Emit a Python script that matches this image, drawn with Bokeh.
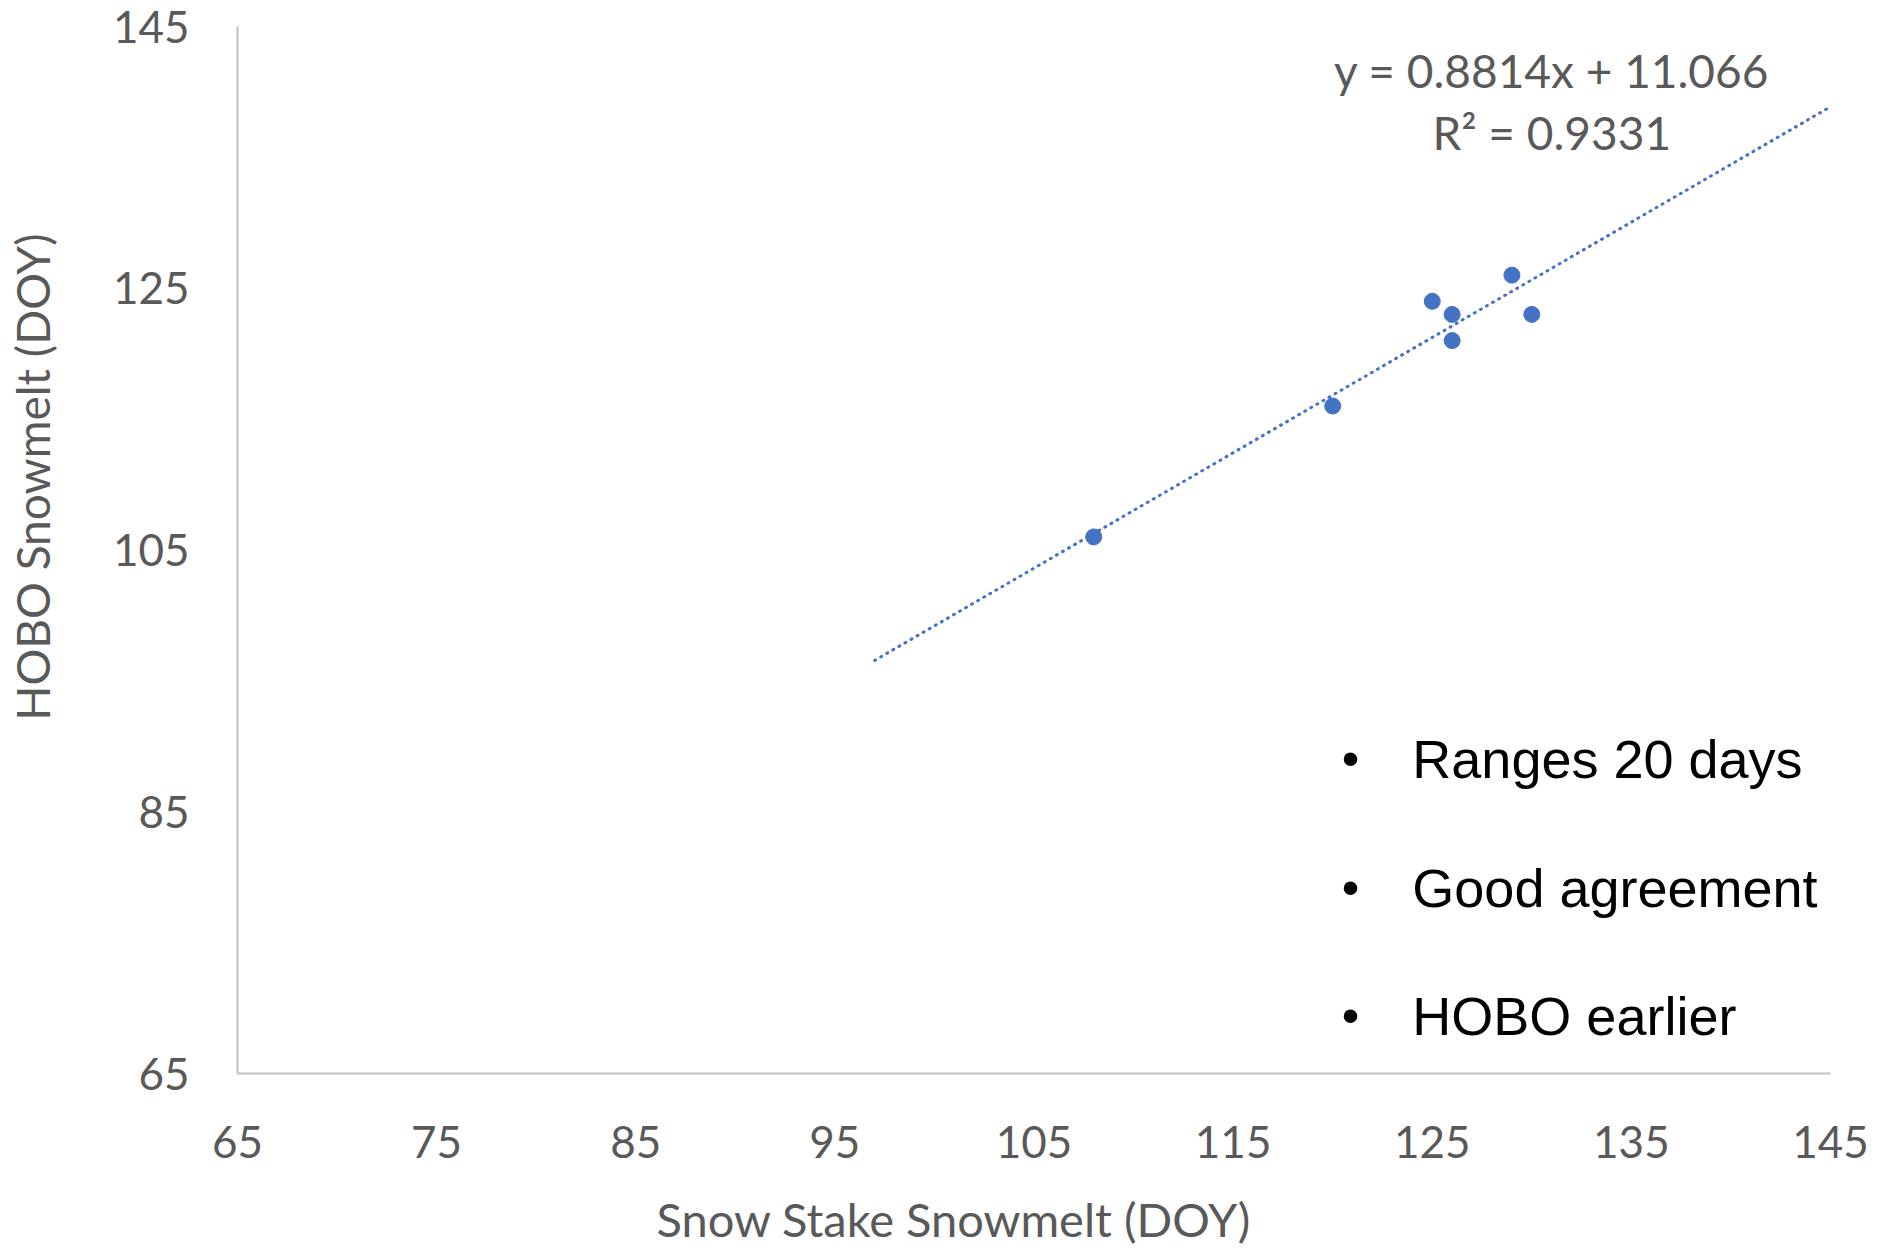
import numpy as np
from bokeh.plotting import figure
from bokeh.models import Range1d, FixedTicker, Label, Title
from bokeh.embed import file_html
from bokeh.resources import INLINE

# ---- data ----
stake_doy = [108, 120, 125, 126, 126, 129, 130]
hobo_doy = [106, 116, 124, 123, 121, 126, 123]
trend_slope = 0.8814
trend_intercept = 11.066
trend_r2 = 0.9331
trend_x_span = [97, 145]
x_ticks = [65, 75, 85, 95, 105, 115, 125, 135, 145]
y_ticks = [65, 85, 105, 125, 145]
bullets = ["Ranges 20 days", "Good agreement", "HOBO earlier"]
x_title = "Snow Stake Snowmelt (DOY)"
y_title = "HOBO Snowmelt (DOY)"

GRAY = "#595959"
BLUE = "#4472C4"
FONT = "Lato"

p = figure(width=1879, height=1250, output_backend="svg", toolbar_location=None,
           x_range=Range1d(65, 145), y_range=Range1d(65, 145),
           min_border_left=237, min_border_right=49, min_border_top=26,
           min_border_bottom=177)
p.outline_line_color = None
p.grid.grid_line_color = None
p.background_fill_color = "white"
p.border_fill_color = "white"

for ax in (p.xaxis[0], p.yaxis[0]):
    ax.axis_line_color = "#BFBFBF"
    ax.axis_line_width = 2
    ax.major_tick_line_color = None
    ax.minor_tick_line_color = None
    ax.major_tick_out = 0
    ax.major_tick_in = 0
    ax.major_label_text_font = FONT
    ax.major_label_text_font_size = "44px"
    ax.major_label_text_color = GRAY

p.xaxis.ticker = FixedTicker(ticks=x_ticks)
p.yaxis.ticker = FixedTicker(ticks=y_ticks)
p.xaxis.major_label_standoff = 52
p.yaxis.major_label_standoff = 48

# axis titles (side titles, positioned off-centre like the reference)
p.add_layout(Title(text="\n" + x_title, align="left", offset=419, standoff=0,
                   text_line_height=0.52,
                   text_font=FONT, text_font_size="47px", text_color=GRAY,
                   text_font_style="normal"), "below")
p.add_layout(Title(text=y_title + "\n", align="right", offset=207, standoff=0,
                   text_line_height=0.9,
                   text_font=FONT, text_font_size="46px", text_color=GRAY,
                   text_font_style="normal"), "left")

# trendline
tx = np.array(trend_x_span, dtype=float)
ty = trend_slope * tx + trend_intercept
p.line(tx, ty, line_color=BLUE, line_width=3, line_dash="1 6", line_cap="round")

# points
p.scatter(stake_doy, hobo_doy, size=16, fill_color=BLUE, line_color=BLUE)

# equation text
p.add_layout(Label(x=131.0, y=141.6, text=f"y = {trend_slope}x + {trend_intercept}",
                   text_font=FONT, text_font_size="46px", text_color=GRAY,
                   text_align="center", text_baseline="middle"))
p.add_layout(Label(x=131.0, y=136.9, text=f"R² = {trend_r2}",
                   text_font=FONT, text_font_size="46px", text_color=GRAY,
                   text_align="center", text_baseline="middle"))

# bullet list
bullet_y = [89.0, 79.2, 69.4]
for txt, by in zip(bullets, bullet_y):
    p.add_layout(Label(x=120.9, y=by, text="•", text_font="Liberation Sans",
                       text_font_size="50px", text_color="black",
                       text_align="center", text_baseline="middle"))
    p.add_layout(Label(x=124.0, y=by, text=txt, text_font="Liberation Sans",
                       text_font_size="54px", text_color="black",
                       text_align="left", text_baseline="middle"))

open("out.html", "w").write(file_html(p, INLINE))
